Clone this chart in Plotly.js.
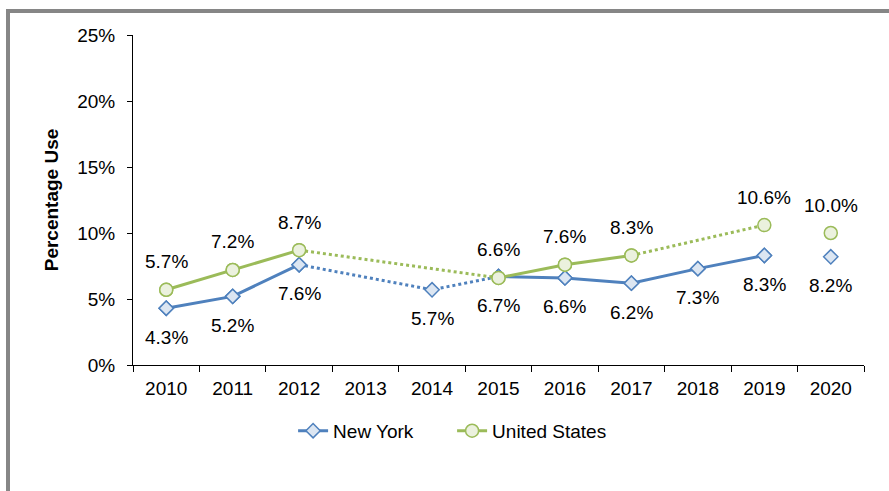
<!DOCTYPE html>
<html>
<head>
<meta charset="utf-8">
<script src="https://cdn.plot.ly/plotly-3.0.1.min.js"></script>
<style>
  html, body { margin: 0; padding: 0; background: #fff; }
  #chart { position: absolute; left: 0; top: 0; width: 889px; height: 491px; }
  #frame { position: absolute; left: 6px; top: 9px; width: 883px; height: 482px;
           border-left: 4px solid #868686; border-top: 4px solid #868686;
           box-sizing: border-box; pointer-events: none; }
</style>
</head>
<body>
<div id="chart"></div>
<div id="frame"></div>
<script>
// ---- data ----
const years = ['2010','2011','2012','2013','2014','2015','2016','2017','2018','2019','2020'];
const newYork = [4.3, 5.2, 7.6, null, 5.7, 6.7, 6.6, 6.2, 7.3, 8.3, 8.2];
const unitedStates = [5.7, 7.2, 8.7, null, null, 6.6, 7.6, 8.3, null, 10.6, 10.0];
// segments drawn solid / dotted (by year)
const nySolidSegments = [['2010','2012'], ['2015','2019']];
const nyDottedSegments = [['2012','2014','2015']];
const usSolidSegments = [['2010','2012'], ['2015','2017']];
const usDottedSegments = [['2012','2015'], ['2017','2019']];

const blue = '#4F81BD', blueFill = '#DCE6F2';
const green = '#9BBB59', greenFill = '#EBF1DE';
const FONT = 'Liberation Sans, Arial, sans-serif';
const FS = 19;

function solidSeries(values, segs) {
  return years.map((y, i) => {
    const inside = segs.some(s => i >= years.indexOf(s[0]) && i <= years.indexOf(s[s.length-1]));
    return inside ? values[i] : null;
  });
}
function dottedXY(values, segs) {
  const x = [], yv = [];
  segs.forEach((s, k) => {
    if (k > 0) { x.push(null); yv.push(null); }
    s.forEach(yr => { x.push(yr); yv.push(values[years.indexOf(yr)]); });
  });
  return {x, y: yv};
}

function seriesTraces(name, values, solidSegs, dottedSegs, color, fill, symbol, msize) {
  const d = dottedXY(values, dottedSegs);
  const marker = {symbol: symbol, size: msize, color: fill, line: {color: color, width: 1.5}};
  return [
    {x: years, y: solidSeries(values, solidSegs), type: 'scatter', mode: 'lines+markers', name: name,
     line: {color: color, width: 3}, marker: marker, connectgaps: false},
    {x: d.x, y: d.y, type: 'scatter', mode: 'lines', showlegend: false, hoverinfo: 'skip',
     line: {color: color, width: 3, dash: 'dot'}},
    {x: years, y: values, type: 'scatter', mode: 'markers', showlegend: false,
     marker: marker}
  ];
}

const traces = [
  ...seriesTraces('New York', newYork, nySolidSegments, nyDottedSegments, blue, blueFill, 'diamond', 11),
  ...seriesTraces('United States', unitedStates, usSolidSegments, usDottedSegments, green, greenFill, 'circle', 13)
];

const annotations = [];
years.forEach((yr, i) => {
  if (newYork[i] !== null) annotations.push({xref: 'x', yref: 'y', x: i, y: newYork[i],
    text: newYork[i].toFixed(1) + '%', showarrow: false, yshift: -29,
    font: {family: FONT, size: FS, color: '#000'}});
  if (unitedStates[i] !== null) annotations.push({xref: 'x', yref: 'y', x: i, y: unitedStates[i],
    text: unitedStates[i].toFixed(1) + '%', showarrow: false, yshift: 28,
    font: {family: FONT, size: FS, color: '#000'}});
});

const layout = {
  width: 889, height: 491,
  margin: {l: 133, r: 25, t: 35, b: 126},
  paper_bgcolor: '#fff', plot_bgcolor: '#fff',
  font: {family: FONT, size: FS, color: '#000'},
  showlegend: true,
  legend: {orientation: 'h', x: 0.219, xanchor: 'left', y: -0.142, yanchor: 'top',
           entrywidth: 114, entrywidthmode: 'pixels',
           font: {family: FONT, size: FS, color: '#000'}, traceorder: 'normal'},
  xaxis: {type: 'category', categoryorder: 'array', categoryarray: years, range: [-0.5, 10.5],
          tickson: 'boundaries', ticks: 'outside', ticklen: 6, ticklabelstandoff: 6,
          tickcolor: '#000', showline: true, linecolor: '#000', linewidth: 1, showgrid: false,
          zeroline: false, tickfont: {family: FONT, size: FS}, fixedrange: true},
  yaxis: {range: [0, 25], dtick: 5, ticksuffix: '%', ticks: 'outside', ticklen: 5, tickcolor: '#000',
          showline: true, linecolor: '#000', linewidth: 1, showgrid: false, zeroline: false,
          tickfont: {family: FONT, size: FS}, ticklabelstandoff: 8,
          title: {text: '<b>Percentage Use</b>', font: {family: FONT, size: 19}, standoff: 13}},
  annotations: annotations
};

Plotly.newPlot('chart', traces, layout, {displayModeBar: false, staticPlot: true});
</script>
</body>
</html>
